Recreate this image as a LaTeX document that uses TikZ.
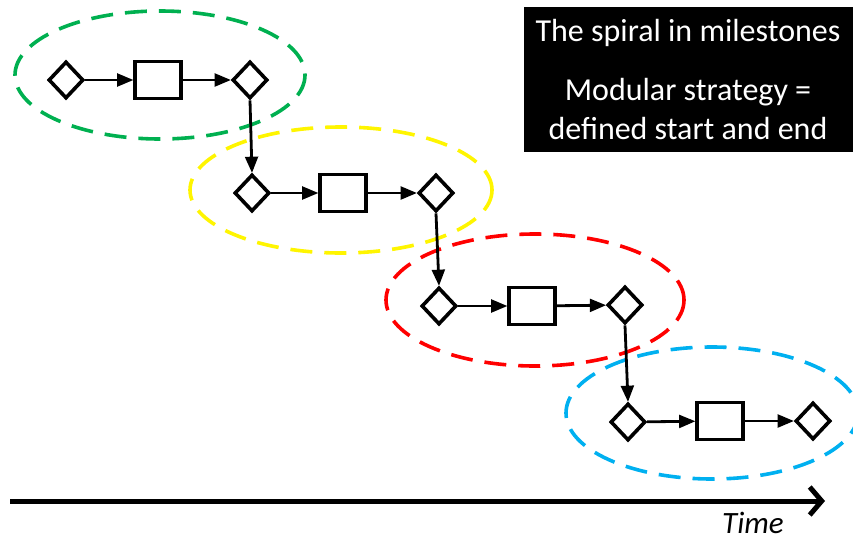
\documentclass[tikz,border=0pt]{standalone}
\usepackage{fontspec}
\setmainfont{Carlito}
\usepackage{tikz}
\usetikzlibrary{arrows,arrows.meta,shapes.geometric}
\tikzset{milestone/.style={draw, diamond, line width=3.6pt, inner sep=0pt, minimum width=35pt, minimum height=37pt},
         task/.style={draw, rectangle, line width=3.6pt, inner sep=0pt, minimum width=46pt, minimum height=37pt},
         flow/.style={line width=2.8pt, -triangle 45},
         spiral/.style={line width=3.6pt, dash pattern=on 22pt off 12pt}}
\definecolor{PhaseGreen}{RGB}{0,176,80}
\definecolor{PhaseYellow}{RGB}{255,245,0}
\definecolor{PhaseRed}{RGB}{255,0,0}
\definecolor{PhaseBlue}{RGB}{0,176,240}
\pgfdeclarelayer{background}
\pgfsetlayers{background,main}

\begin{document}
\begin{tikzpicture}[x=1pt,y=-1pt]
\useasboundingbox (0,0) rectangle (853,541);

%% milestones and tasks, one row per phase
\node[milestone] (s1) at (66,80) {};
\node[task]      (w1) at (158,80) {};
\node[milestone] (e1) at (250,80) {};

\node[milestone] (s2) at (252,193) {};
\node[task]      (w2) at (343,193) {};
\node[milestone] (e2) at (436,193) {};

\node[milestone] (s3) at (439,306) {};
\node[task]      (w3) at (532,306) {};
\node[milestone] (e3) at (625,305) {};

\node[milestone] (s4) at (628,422) {};
\node[task]      (w4) at (720,421) {};
\node[milestone] (e4) at (813,421) {};

\foreach \i in {1,...,4}{
\draw[flow] (s\i) -- (w\i);
\draw[flow] (w\i) -- (e\i);
}
\draw[flow] (e1.south) -- (s2.north);
\draw[flow] (e2.south) -- (s3.north);
\draw[flow] (e3.south) -- (s4.north);

%% dashed phase rings
\begin{pgfonlayer}{background}
\draw[spiral, PhaseGreen]  (160,75)  ellipse [x radius=145, y radius=64];
\draw[spiral, PhaseYellow] (341,190) ellipse [x radius=151, y radius=63];
\draw[spiral, PhaseRed]    (535,300) ellipse [x radius=149, y radius=66];
\draw[spiral, PhaseBlue]   (712,413) ellipse [x radius=146, y radius=66];
\end{pgfonlayer}

%% time axis
\coordinate (t0) at (10,501);
\coordinate (t1) at (825,501);
\draw[line width=5pt, -{Straight Barb[length=12pt, width=28pt, line width=5pt]}] (t0) -- (t1);
\node[font=\itshape\fontsize{31}{34}\selectfont, anchor=base, inner sep=0pt] (time) at (753,533) {Time};

%% legend box
\node[fill=black, text=white, minimum width=329pt, minimum height=145pt, inner sep=0pt] (box) at (688.5,79.5) {};
\node[text=white, font=\fontsize{32}{39}\selectfont, align=center] (title) at (688,33) {The spiral in milestones};
\node[text=white, font=\fontsize{32}{39}\selectfont, align=center] (note) at (688,109) {Modular strategy =\\defined start and end};

\end{tikzpicture}
\end{document}
